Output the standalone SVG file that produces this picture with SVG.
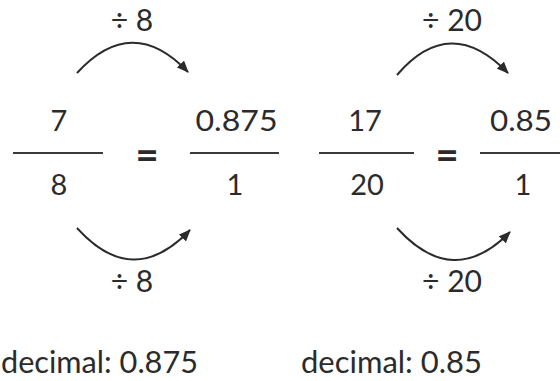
<svg xmlns="http://www.w3.org/2000/svg" width="560" height="381" viewBox="0 0 560 381">
<style>
text{font-family:Lato,"Open Sans","Liberation Sans",sans-serif;fill:#2b2b2b;text-anchor:middle}
.n{font-size:29px}
.op{font-size:30px}
.eq{font-size:40px;font-weight:bold}
.dec{font-size:31px;text-anchor:start}
.bar{stroke:#3a3a3a;stroke-width:2}
.arc{fill:none;stroke:#2b2b2b;stroke-width:2}
</style>
<defs>
<marker id="ah" viewBox="0 0 12 10" refX="11" refY="5" markerWidth="12" markerHeight="10" markerUnits="userSpaceOnUse" orient="auto">
<path d="M0,0 L12,5 L0,10 z" fill="#2b2b2b"/>
</marker>
</defs>
<g id="connectors">
<path class="arc" d="M77,73 Q132,13 188,72" marker-end="url(#ah)"/>
<path class="arc" d="M77,228 Q133,290 190,230" marker-end="url(#ah)"/>
<path class="arc" d="M397,75 Q450,13 508,73" marker-end="url(#ah)"/>
<path class="arc" d="M397,228 Q453,290 510,232" marker-end="url(#ah)"/>
</g>
<g id="left-top-op"><text class="op" x="132" y="31">÷ 8</text></g>
<g id="left-bottom-op"><text class="op" x="132" y="292">÷ 8</text></g>
<g id="frac-7-8">
<text class="n" x="59" y="131">7</text>
<line class="bar" x1="13" y1="153" x2="103" y2="153"/>
<text class="n" x="59" y="195">8</text>
</g>
<g id="eq-left"><text class="eq" x="147" y="169">=</text></g>
<g id="frac-0875-1">
<text class="n" x="236.5" y="131" textLength="82" lengthAdjust="spacingAndGlyphs">0.875</text>
<line class="bar" x1="190" y1="153" x2="279" y2="153"/>
<text class="n" x="235" y="195">1</text>
</g>
<g id="right-top-op"><text class="op" x="452" y="31" textLength="60" lengthAdjust="spacingAndGlyphs">÷ 20</text></g>
<g id="right-bottom-op"><text class="op" x="452" y="292" textLength="60" lengthAdjust="spacingAndGlyphs">÷ 20</text></g>
<g id="frac-17-20">
<text class="n" x="365" y="131">17</text>
<line class="bar" x1="319" y1="153" x2="414" y2="153"/>
<text class="n" x="367" y="195">20</text>
</g>
<g id="eq-right"><text class="eq" x="447" y="169">=</text></g>
<g id="frac-085-1">
<text class="n" x="521" y="131" textLength="62" lengthAdjust="spacingAndGlyphs">0.85</text>
<line class="bar" x1="480" y1="153" x2="560" y2="153"/>
<text class="n" x="523" y="195">1</text>
</g>
<g id="decimal-left"><text class="dec" x="1" y="373" textLength="197" lengthAdjust="spacingAndGlyphs">decimal: 0.875</text></g>
<g id="decimal-right"><text class="dec" x="301" y="373" textLength="181" lengthAdjust="spacingAndGlyphs">decimal: 0.85</text></g>
</svg>
